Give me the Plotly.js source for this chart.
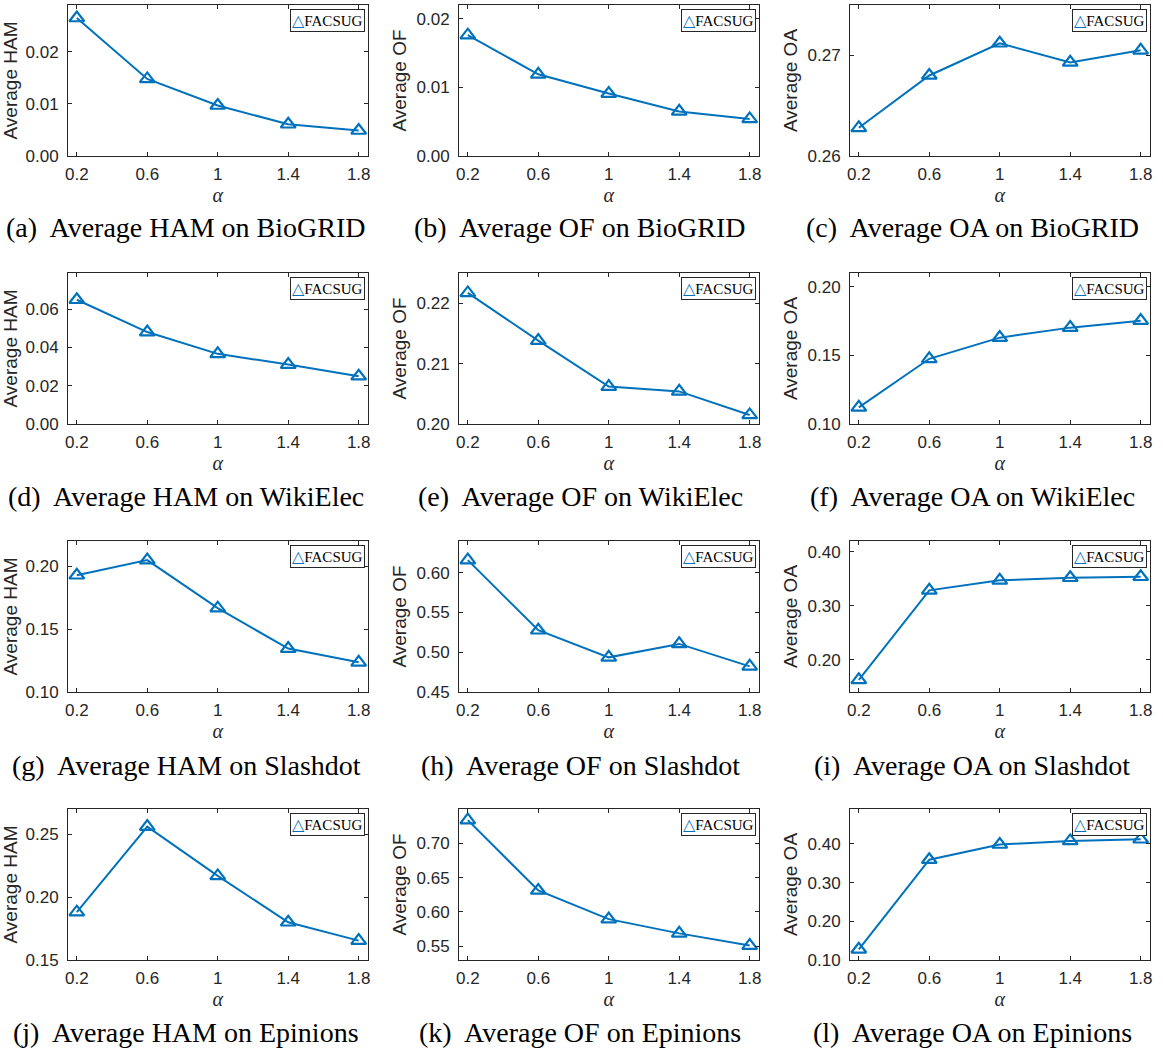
<!DOCTYPE html>
<html>
<head>
<meta charset="utf-8">
<script src="https://cdn.plot.ly/plotly-3.0.1.min.js"></script>
<style>html,body{margin:0;padding:0;background:#fff;}#chart{width:1163px;height:1048px;}</style>
</head>
<body>
<div id="chart"></div>
<script>
// ---- data ----
const alpha = [0.2, 0.6, 1, 1.4, 1.8];
const alphaLabels = ["0.2", "0.6", "1", "1.4", "1.8"];
const seriesName = "FACSUG";

const hamBioGRID = [0.0265, 0.0148, 0.0097, 0.0061, 0.0049];
const ofBioGRID  = [0.0176, 0.0119, 0.0091, 0.0065, 0.0054];
const oaBioGRID  = [0.2628, 0.2680, 0.2712, 0.2693, 0.2705];

const hamWikiElec = [0.0650, 0.0481, 0.0367, 0.0311, 0.0250];
const ofWikiElec  = [0.2217, 0.2138, 0.2062, 0.2054, 0.2015];
const oaWikiElec  = [0.1121, 0.1475, 0.1629, 0.1702, 0.1753];

const hamSlashdot = [0.1928, 0.2048, 0.1666, 0.1345, 0.1236];
const ofSlashdot  = [0.6159, 0.5277, 0.4936, 0.5105, 0.4823];
const oaSlashdot  = [0.1624, 0.3285, 0.3470, 0.3519, 0.3537];

const hamEpinions = [0.1880, 0.2560, 0.2168, 0.1800, 0.1654];
const ofEpinions  = [0.7338, 0.6313, 0.5895, 0.5688, 0.5510];
const oaEpinions  = [0.1277, 0.3590, 0.3983, 0.4075, 0.4119];

// y tick values per panel
const yTicksA = [0, 0.01, 0.02];
const yTicksB = [0, 0.01, 0.02];
const yTicksC = [0.26, 0.27];
const yTicksD = [0, 0.02, 0.04, 0.06];
const yTicksE = [0.20, 0.21, 0.22];
const yTicksF = [0.10, 0.15, 0.20];
const yTicksG = [0.10, 0.15, 0.20];
const yTicksH = [0.45, 0.50, 0.55, 0.60];
const yTicksI = [0.20, 0.30, 0.40];
const yTicksJ = [0.15, 0.20, 0.25];
const yTicksK = [0.55, 0.60, 0.65, 0.70];
const yTicksL = [0.10, 0.20, 0.30, 0.40];

const yRanges = [
  [0, 0.029], [0, 0.022], [0.26, 0.275],
  [0, 0.079], [0.20, 0.225], [0.10, 0.21],
  [0.10, 0.22], [0.45, 0.64], [0.14, 0.42],
  [0.15, 0.27], [0.53, 0.75], [0.10, 0.49]
];

const metricLabels = ["Average HAM", "Average OF", "Average OA"];
const datasets = ["BioGRID", "WikiElec", "Slashdot", "Epinions"];
const letters = ["a","b","c","d","e","f","g","h","i","j","k","l"];
const metricShort = ["HAM", "OF", "OA"];

const panelValues = [
  hamBioGRID, ofBioGRID, oaBioGRID,
  hamWikiElec, ofWikiElec, oaWikiElec,
  hamSlashdot, ofSlashdot, oaSlashdot,
  hamEpinions, ofEpinions, oaEpinions
];
const panelTicks = [yTicksA, yTicksB, yTicksC, yTicksD, yTicksE, yTicksF,
                    yTicksG, yTicksH, yTicksI, yTicksJ, yTicksK, yTicksL];

// ---- layout geometry (pixels) ----
const W = 1163, H = 1048;
const colLeft = [68, 459, 850];
const plotW = 299.5;
const rowTop = [5, 273, 541, 809];
const plotH = 151;
const captionCX = [186, 580, 972];
const captionCY = [227, 496, 765, 1032];

const blue = "#0072BD";
const axisCol = "#262626";

const traces = [];
const layout = {
  width: W, height: H,
  margin: {l: 0, r: 0, t: 0, b: 0},
  paper_bgcolor: "#fff", plot_bgcolor: "#fff",
  showlegend: false,
  annotations: [],
  font: {family: "Liberation Sans, Arial, sans-serif", color: axisCol}
};

for (let i = 0; i < 12; i++) {
  const r = Math.floor(i / 3), c = i % 3;
  const n = i + 1;
  const xa = n === 1 ? "x" : "x" + n;
  const ya = n === 1 ? "y" : "y" + n;
  const xk = n === 1 ? "xaxis" : "xaxis" + n;
  const yk = n === 1 ? "yaxis" : "yaxis" + n;

  traces.push({
    x: alpha, y: panelValues[i], xaxis: xa, yaxis: ya,
    type: "scatter", mode: "lines+markers", name: seriesName,
    line: {color: blue, width: 2},
    marker: {symbol: "triangle-up-open", size: 13, color: blue, line: {color: blue, width: 2.2}},
    hoverinfo: "x+y"
  });

  const x0 = colLeft[c] / W, x1 = (colLeft[c] + plotW) / W;
  const y1 = 1 - rowTop[r] / H, y0 = 1 - (rowTop[r] + plotH) / H;

  layout[xk] = {
    domain: [x0, x1], anchor: ya, range: [0.15, 1.85],
    tickvals: alpha, ticktext: alphaLabels,
    ticks: "inside", ticklen: 4, tickwidth: 1, tickcolor: axisCol,
    showline: true, linecolor: axisCol, linewidth: 1, mirror: "ticks",
    showgrid: false, zeroline: false,
    tickfont: {family: "Liberation Sans, Arial, sans-serif", size: 17, color: axisCol},
    ticklabelstandoff: 3,
    title: {text: "<i>α</i>", font: {family: "Liberation Serif, serif", size: 20, color: axisCol}, standoff: 2}
  };
  layout[yk] = {
    domain: [y0, y1], anchor: xa, range: yRanges[i],
    tickvals: panelTicks[i], tickformat: ".2f",
    ticks: "inside", ticklen: 4, tickwidth: 1, tickcolor: axisCol,
    showline: true, linecolor: axisCol, linewidth: 1, mirror: "ticks",
    showgrid: false, zeroline: false,
    tickfont: {family: "Liberation Sans, Arial, sans-serif", size: 17, color: axisCol},
    ticklabelstandoff: 5,
    title: {text: metricLabels[c], font: {family: "Liberation Sans, Arial, sans-serif", size: 19, color: axisCol}, standoff: 4}
  };

  // legend box (top-right of each panel)
  layout.annotations.push({
    xref: xa + " domain", yref: ya + " domain", x: 1, y: 1,
    xanchor: "right", yanchor: "top", xshift: -3, yshift: -4,
    text: '<span style="color:' + blue + ';font-family:DejaVu Sans;font-weight:bold;font-size:16px">△</span>' + seriesName,
    showarrow: false,
    font: {family: "Liberation Serif, serif", size: 15, color: "#000"},
    bgcolor: "#fff", bordercolor: axisCol, borderwidth: 1, borderpad: 1
  });

  // caption
  layout.annotations.push({
    xref: "paper", yref: "paper",
    x: captionCX[c] / W, y: 1 - captionCY[r] / H,
    xanchor: "center", yanchor: "middle",
    text: "(" + letters[i] + ")  Average " + metricShort[c] + " on " + datasets[r],
    showarrow: false,
    font: {family: "Liberation Serif, serif", size: 28, color: "#000"}
  });
}

Plotly.newPlot("chart", traces, layout, {displayModeBar: false, staticPlot: true});
</script>
</body>
</html>
